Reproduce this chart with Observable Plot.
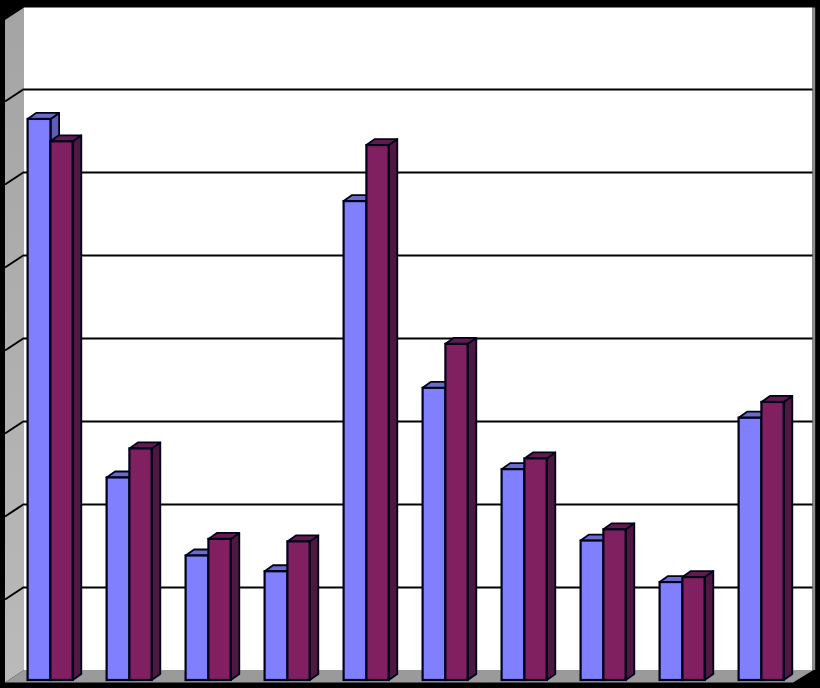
<!DOCTYPE html>
<html>
<head>
<meta charset="utf-8">
<script src="https://cdn.jsdelivr.net/npm/d3@7"></script>
<script src="https://cdn.jsdelivr.net/npm/@observablehq/plot@0.6"></script>
<style>
html,body{margin:0;padding:0;background:#000;overflow:hidden}
svg{display:block}
</style>
</head>
<body>
<div id="chart"></div>
<script>
const categories = ["1","2","3","4","5","6","7","8","9","10"];
const seriesA = [6.76,2.44,1.50,1.31,5.77,3.52,2.54,1.68,1.18,3.16];
const seriesB = [6.49,2.79,1.70,1.67,6.445,4.05,2.67,1.815,1.24,3.35];
const gridValues = [1,2,3,4,5,6,7];
const rowsA = categories.map((c,i)=>({c,v:seriesA[i]}));
const rowsB = categories.map((c,i)=>({c,v:seriesB[i]}));

const W=820,H=688, step=79.15;
const wall={left:24,right:812.5,fl:5,fr:793}, back={dy:-10}, sideDy=12.5;
const depth={x:8.5,y:-6};
const barA={l:10.6,w:23}, barB={l:33.4,w:22.4};
const edge="#00001a";
const NS="http://www.w3.org/2000/svg";
function poly(g,pts,fill,stroke,sw){
  const p=document.createElementNS(NS,"polygon");
  p.setAttribute("points",pts.map(a=>a.join(",")).join(" "));
  p.setAttribute("fill",fill);
  p.setAttribute("stroke",stroke||"none");
  if(stroke){p.setAttribute("stroke-width",sw||2);p.setAttribute("stroke-linejoin","round");}
  g.appendChild(p);
}
function depthMark(rows,bar,topColor,sideColor){
  return (index,scales)=>{
    const g=document.createElementNS(NS,"g");
    for(const r of rows){
      const x0=scales.x(r.c)+bar.l,x1=x0+bar.w,yt=scales.y(r.v),yb=scales.y(0);
      poly(g,[[x1,yt],[x1+depth.x,yt+depth.y],[x1+depth.x,yb+depth.y],[x1,yb]],sideColor,edge,1.8);
      poly(g,[[x0,yt],[x0+depth.x,yt+depth.y],[x1+depth.x,yt+depth.y],[x1,yt]],topColor,edge,1.8);
    }
    return g;
  };
}
const shell=(index,scales)=>{
  const g=document.createElementNS(NS,"g");
  const y0=scales.y(0)+back.dy,yTop=scales.y(8)+back.dy+1.5;
  const defs=document.createElementNS(NS,"defs");
  defs.innerHTML='<linearGradient id="sideWall" x1="0" y1="0" x2="0" y2="1"><stop offset="0" stop-color="#a4a4a4"/><stop offset="1" stop-color="#bababa"/></linearGradient>';
  g.appendChild(defs);
  poly(g,[[wall.left,yTop],[wall.right,yTop],[wall.right,y0],[wall.left,y0]],"#fff");
  poly(g,[[wall.right,yTop],[wall.right+2.7,yTop],[wall.right+2.7,y0],[wall.right,y0]],"#8c8c8c");
  poly(g,[[wall.fl,yTop+sideDy],[wall.left,yTop],[wall.left,y0],[wall.fl,y0+sideDy]],"url(#sideWall)");
  poly(g,[[wall.fl,y0+sideDy],[wall.left,y0],[wall.right+1,y0],[wall.fr,y0+sideDy]],"#9a9a9a");
  for(const v of gridValues){
    const l=document.createElementNS(NS,"line"),yy=scales.y(v)+back.dy;
    l.setAttribute("x1",wall.fl);l.setAttribute("y1",yy+sideDy);
    l.setAttribute("x2",wall.left);l.setAttribute("y2",yy);
    l.setAttribute("stroke","#000");l.setAttribute("stroke-width",2);
    g.appendChild(l);
  }
  return g;
};
const chart=Plot.plot({
  width:W,height:H,margin:0,
  style:{background:"#000"},
  x:{type:"band",domain:categories,range:[16,16+step*10],padding:0,axis:null},
  y:{domain:[0,8],range:[680,16],axis:null},
  marks:[
    shell,
    Plot.ruleY(gridValues,{y:d=>d,dy:back.dy,stroke:"#000",strokeWidth:2,insetLeft:wall.left,insetRight:W-wall.right}),
    depthMark(rowsA,barA,"#6c6cc8","#5d5fb5"),
    Plot.barY(rowsA,{x:"c",y:"v",fill:"#8080ff",stroke:edge,strokeWidth:2.2,insetLeft:barA.l,insetRight:step-barA.l-barA.w}),
    depthMark(rowsB,barB,"#651a4e","#4e1740"),
    Plot.barY(rowsB,{x:"c",y:"v",fill:"#802060",stroke:edge,strokeWidth:2.2,insetLeft:barB.l,insetRight:step-barB.l-barB.w})
  ]
});
document.getElementById("chart").appendChild(chart);
</script>
</body>
</html>
